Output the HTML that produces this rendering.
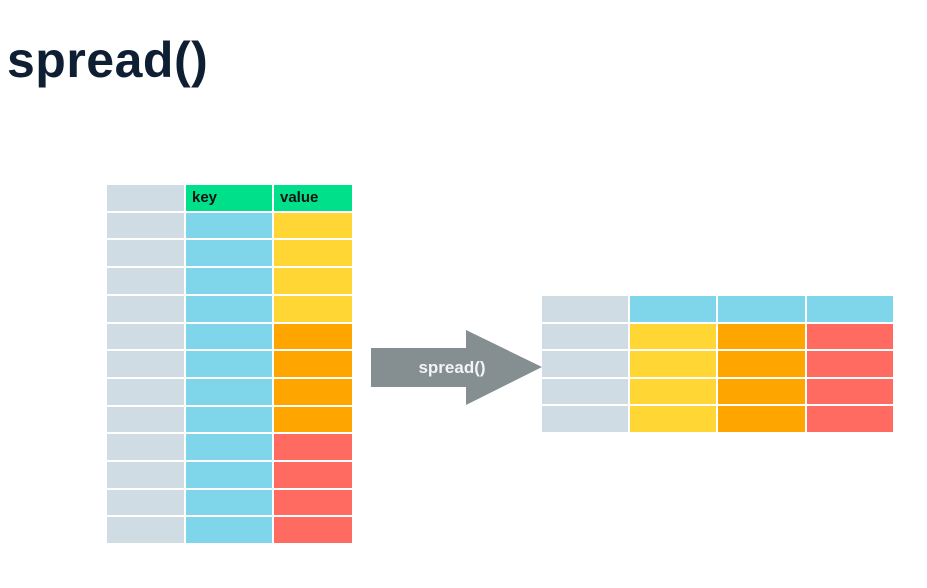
<!DOCTYPE html>
<html><head><meta charset="utf-8"><style>
body{margin:0;width:927px;height:588px;background:#fff;overflow:hidden;position:relative;font-family:"Liberation Sans",sans-serif}
#title{position:absolute;left:7px;top:30px;font-size:50px;font-weight:bold;color:#0f1f33;letter-spacing:0.5px;line-height:60px}
.c{position:absolute}
.lbl{position:absolute;font-size:15px;font-weight:bold;color:#111;line-height:26px}
</style></head><body>
<div id="title">spread()</div>
<svg class="c" style="left:0;top:0" width="927" height="588">
<polygon points="371,348 466,348 466,330 542,367 466,405 466,387 371,387" fill="#858e91"/>
<text x="452" y="373" text-anchor="middle" font-family="Liberation Sans, sans-serif" font-size="17" font-weight="bold" fill="#f2f4f5">spread()</text>
</svg>
<script>
const G='#cfdce3',C='#7fd6ea',Y='#ffd633',O='#ffa500',R='#ff6b61',N='#00e08a';
const leftCols=[[107,77],[186,86],[274,78]];
const leftColors=[[G,N,N]].concat(
 [Y,Y,Y,Y,O,O,O,O,R,R,R,R].map(v=>[G,C,v]));
const rightCols=[[542,86],[630,86],[718,87],[807,86]];
const rightColors=[[G,C,C,C],[G,Y,O,R],[G,Y,O,R],[G,Y,O,R],[G,Y,O,R]];
function draw(cols,colors,top,pitch,name){
 colors.forEach((row,i)=>{
  const y0=Math.round(top+i*pitch), y1=Math.round(top+(i+1)*pitch)-2;
  row.forEach((col,j)=>{
  const d=document.createElement('div');
  d.className='c';
  d.style.cssText=`left:${cols[j][0]}px;top:${y0}px;width:${cols[j][1]}px;height:${y1-y0}px;background:${col}`;
  
  
  document.body.appendChild(d);
 });});
}
draw(leftCols,leftColors,185,27.7,'long-table');
draw(rightCols,rightColors,296,27.6,'wide-table');
[['key',192],['value',280]].forEach(([t,x])=>{
 const l=document.createElement('div');
 l.className='lbl';l.textContent=t;l.style.left=x+'px';l.style.top='185px';
 
 
 document.body.appendChild(l);
});
</script>
</body></html>
